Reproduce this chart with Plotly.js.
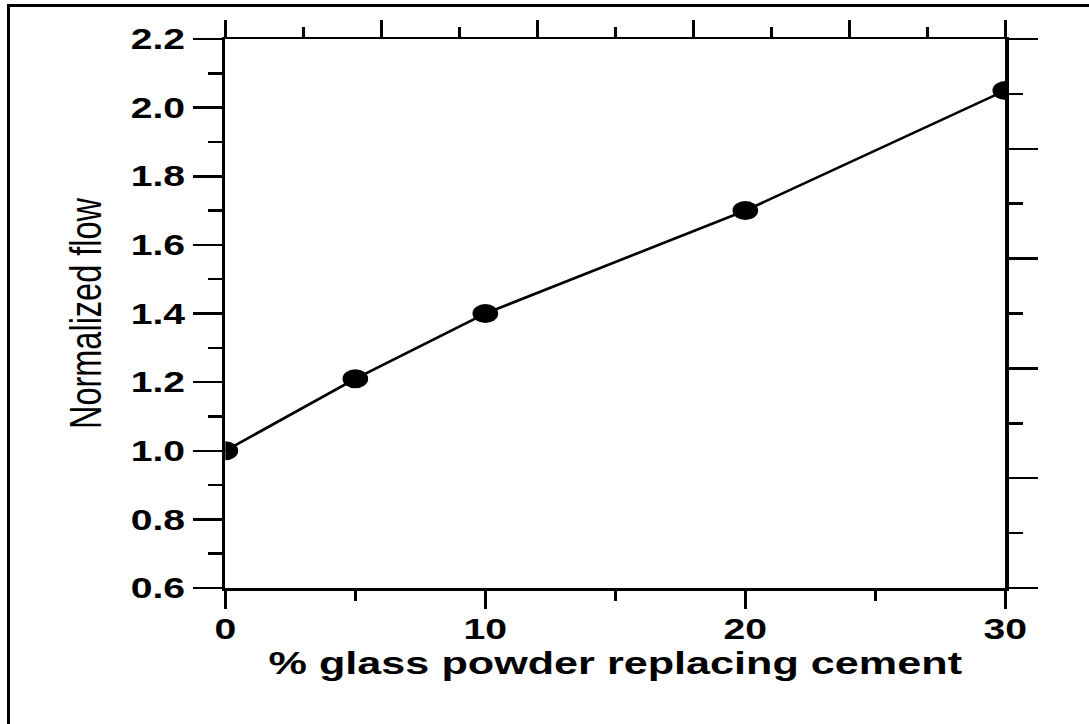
<!DOCTYPE html>
<html>
<head>
<meta charset="utf-8">
<script src="https://cdn.plot.ly/plotly-3.0.1.min.js"></script>
<style>
body { margin: 0; background: #fff; }
#wrap { position: relative; width: 1089px; height: 724px; overflow: hidden; background: #fff; }
/* the scanned figure is stretched sideways, so draw narrow and stretch */
#chart { position: absolute; left: 0; top: 0; width: 807px; height: 724px;
         transform: scaleX(1.3494); transform-origin: 0 0; }
#frame { position: absolute; left: 7px; top: 4px; width: 1200px; height: 900px;
         border-top: 3px solid #000; border-left: 3px solid #000; pointer-events: none; }
</style>
</head>
<body>
<div id="wrap">
  <div id="chart"></div>
  <div id="frame"></div>
</div>
<script>
const pctGlass = [0, 5, 10, 20, 30];
const normFlow = [1.00, 1.21, 1.40, 1.70, 2.05];
const xTitle = "% glass powder replacing cement";
const yTitle = "Normalized flow";

const chartDiv = document.getElementById("chart");
const STRETCH = 1089 / 807;

const tickFont = {family: "Liberation Sans, Arial, sans-serif", size: 29, weight: "bold", color: "#000"};

var flowTrace = {
    x: pctGlass, y: normFlow,
    mode: "lines+markers",
    line: {color: "#000", width: 2.5},
    marker: {color: "#000", size: 19},
    showlegend: false, hoverinfo: "skip"
};
// empty trace so the top and right frame axes get drawn
var frameTrace = {x: [], y: [], xaxis: "x2", yaxis: "y2", showlegend: false, hoverinfo: "skip"};

var axisBase = {
    showline: true, linecolor: "#000", linewidth: 2.5,
    showgrid: false, zeroline: false,
    ticks: "outside", tickcolor: "#000", tickwidth: 2.5
};

var layout = {
    width: 807, height: 724,
    margin: {l: 225 / STRETCH, r: 807 - 1006 / STRETCH, t: 39, b: 136},
    paper_bgcolor: "#fff", plot_bgcolor: "#fff",
    xaxis: Object.assign({}, axisBase, {
        range: [0, 30], dtick: 10, ticklen: 18, ticklabelstandoff: -4,
        minor: {dtick: 5, ticklen: 10, ticks: "outside", tickcolor: "#000", tickwidth: 2.5},
        tickfont: tickFont,
        title: {text: xTitle, font: {family: "Liberation Sans, Arial, sans-serif", size: 32, weight: "bold", color: "#000"}, standoff: 8}
    }),
    yaxis: Object.assign({}, axisBase, {
        range: [0.6, 2.2], dtick: 0.2, tickformat: ".1f", ticklen: 21.5,
        minor: {dtick: 0.1, ticklen: 10.4, ticks: "outside", tickcolor: "#000", tickwidth: 2.5},
        tickfont: tickFont,
        title: {text: yTitle, font: {family: "Liberation Sans, Arial, sans-serif", size: 32.5, color: "#000"}, standoff: 12}
    }),
    xaxis2: Object.assign({}, axisBase, {
        overlaying: "x", side: "top", range: [0, 10], dtick: 2, ticklen: 17,
        minor: {dtick: 1, ticklen: 10, ticks: "outside", tickcolor: "#000", tickwidth: 2.5},
        showticklabels: false
    }),
    yaxis2: Object.assign({}, axisBase, {
        overlaying: "y", side: "right", range: [0, 10], dtick: 2, ticklen: 21.5,
        minor: {dtick: 1, ticklen: 10.4, ticks: "outside", tickcolor: "#000", tickwidth: 2.5},
        showticklabels: false
    })
};

Plotly.newPlot(chartDiv, [flowTrace, frameTrace], layout, {staticPlot: true});
</script>
</body>
</html>
